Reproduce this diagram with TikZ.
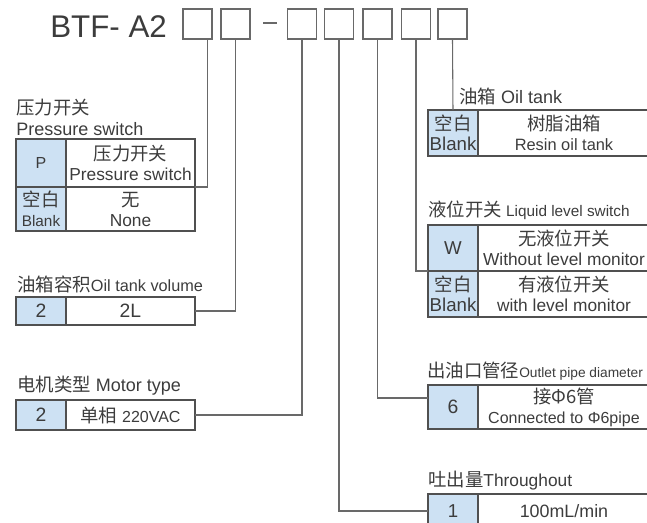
\documentclass[tikz,border=0pt]{standalone}
\usepackage{fontspec}
\setmainfont{Liberation Sans}
\newfontfamily\cjk{Noto Sans CJK SC}
\usetikzlibrary{positioning}
\definecolor{keyblue}{RGB}{205,225,243}
\definecolor{linegray}{RGB}{105,105,105}
\definecolor{cellgray}{RGB}{80,80,80}
\definecolor{textgray}{RGB}{60,60,60}
\newdimen\pxu \pxu=0.75pt
\newcommand\zh[1]{{\fontsize{13.8}{15}\cjk #1}}
\newcommand\fs[1]{\fontsize{#1}{15}\selectfont}
\tikzset{
    codebox/.style={draw=linegray, line width=1.1pt, minimum width=29\pxu, minimum height=30\pxu, inner sep=0pt},
    conn/.style={draw=linegray, line width=0.8pt},
    keycell/.style={draw=cellgray, fill=keyblue, line width=0.8pt, minimum width=50\pxu,
                    inner sep=0pt, outer sep=0pt, align=center, font=\fs{14}},
    desccell/.style={draw=cellgray, line width=0.8pt, minimum width=129\pxu,
                     inner sep=0pt, outer sep=0pt, align=center},
    caption/.style={anchor=base west, inner sep=0pt}
}

\begin{document}
\begin{tikzpicture}[x=0.75pt, y=-0.75pt, font=\fs{13}, text=textgray]
    \useasboundingbox (0,0) rectangle (647,522);
    \clip (0,0) rectangle (647,522);

    \node[anchor=base west, inner sep=0pt, font=\fontsize{23.5}{26}\selectfont] (model) at (50,37) {BTF- A2};
    \foreach \x [count=\i] in {197.5,235.5,302,339,377.5,416,452.5}
        \node[codebox] (b\i) at (\x,24) {};
    \draw[line width=2.1pt, draw=linegray] (263,23) -- (277,23);

    % left side
    \node[anchor=west, inner sep=0pt, align=left, font=\fontsize{13.5}{15.75}\selectfont] (pcap) at (16,117)
        {\zh{压力开关}\\Pressure switch};
    \node[keycell, anchor=north west, minimum height=48\pxu, font=\fs{12}] (p1k) at (16,139) {P};
    \node[desccell, right=0pt of p1k, minimum height=48\pxu] (p1d) {\zh{压力开关}\\Pressure switch};
    \node[keycell, below=0pt of p1k, minimum height=44\pxu, font=\fs{11.5}] (p2k) {\zh{空白}\\Blank};
    \node[desccell, right=0pt of p2k, minimum height=44\pxu] (p2d) {\zh{无}\\None};

    \node[caption, font=\fs{12.2}] (vcap) at (17,291) {\zh{油箱容积}Oil tank volume};
    \node[keycell, anchor=north west, minimum height=28\pxu, font=\fs{14.5}] (v1k) at (16,297) {2};
    \node[desccell, right=0pt of v1k, minimum height=28\pxu, font=\fs{14.5}] (v1d) {2L};

    \node[caption, font=\fs{13.5}] (mcap) at (17,391) {\zh{电机类型} Motor type};
    \node[keycell, anchor=north west, minimum height=30\pxu, font=\fs{14.5}] (m1k) at (16,400) {2};
    \node[desccell, right=0pt of m1k, minimum height=30\pxu] (m1d) {\zh{单相} {\fs{12}220VAC}};

    % right side
    \node[caption, font=\fs{13.5}] (kcap) at (459,103) {\zh{油箱} Oil tank};
    \node[keycell, anchor=north west, minimum height=46\pxu] (k1k) at (428,110) {\zh{空白}\\Blank};
    \node[desccell, right=0pt of k1k, minimum width=172\pxu, minimum height=46\pxu, font=\fs{12.3}] (k1d)
        {\zh{树脂油箱}\\Resin oil tank};

    \node[caption, font=\fs{11.5}] (lcap) at (428,216) {\zh{液位开关} Liquid level switch};
    \node[keycell, anchor=north west, minimum height=46\pxu] (l1k) at (428,225) {W};
    \node[desccell, right=0pt of l1k, minimum width=172\pxu, minimum height=46\pxu] (l1d)
        {\zh{无液位开关}\\Without level monitor};
    \node[keycell, below=0pt of l1k, minimum height=46\pxu] (l2k) {\zh{空白}\\Blank};
    \node[desccell, right=0pt of l2k, minimum width=172\pxu, minimum height=46\pxu] (l2d)
        {\zh{有液位开关}\\with level monitor};

    \node[caption, font=\fs{10.3}] (ocap) at (427,377) {\zh{出油口管径}Outlet pipe diameter};
    \node[keycell, anchor=north west, minimum height=44\pxu, font=\fs{14.5}] (o1k) at (428,385) {6};
    \node[desccell, right=0pt of o1k, minimum width=172\pxu, minimum height=44\pxu, font=\fs{12}] (o1d)
        {\zh{接Φ6管}\\Connected to Φ6pipe};

    \node[caption, font=\fs{13}] (tcap) at (428,486) {\zh{吐出量}Throughout};
    \node[keycell, anchor=north west, minimum height=34\pxu] (t1k) at (428,494) {1};
    \node[desccell, right=0pt of t1k, minimum width=172\pxu, minimum height=34\pxu, font=\fs{13.4}] (t1d) {100mL/min};

    % connectors
    \draw[conn] ([xshift=7.5pt]b1.south) |- (p1d.south east);
    \draw[conn] (b2.south) |- (v1d.east);
    \draw[conn] (b3.south) |- (m1d.east);
    \draw[conn] (b4.south) |- (t1k.west);
    \draw[conn] (b5.south) |- ([yshift=6.75pt]o1k.west);
    \draw[conn] (b6.south) |- (l1k.south west);
    \draw[conn] (b7.south) -- (k1k.north);
\end{tikzpicture}
\end{document}
